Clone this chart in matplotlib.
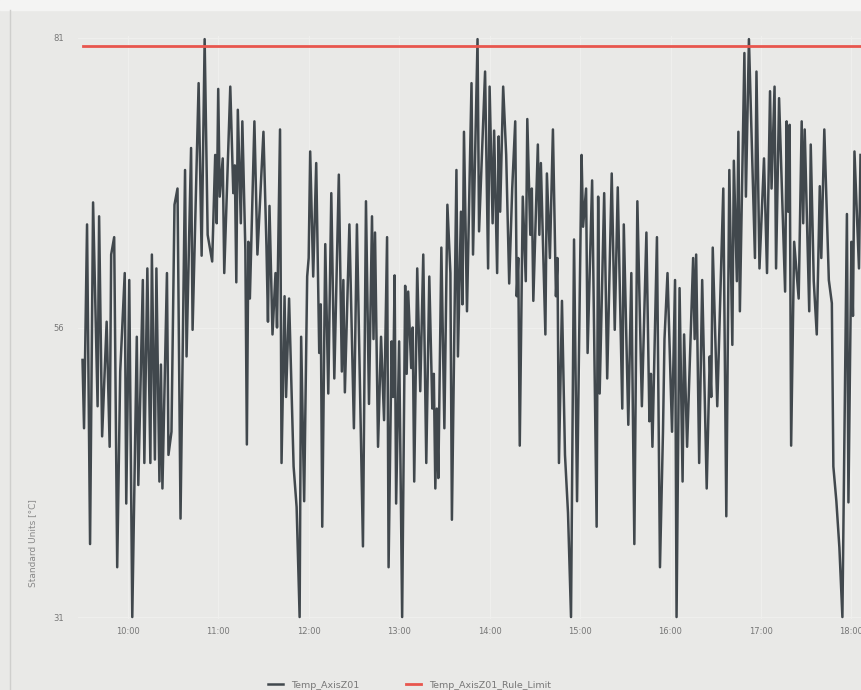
import pandas as pd
import matplotlib
matplotlib.use("Agg")
import matplotlib.pyplot as plt
import matplotlib.dates as mdates
from matplotlib.lines import Line2D
from matplotlib.patches import Rectangle

# minutes after 10:00 and readings of Temp_AxisZ01
minutes = [
    -30, -29, -27, -25, -23, -20, -19, -17, -14, -12, -11, -9, -7, -5, -2, -1,
    1, 3, 6, 7, 10, 11, 13, 15, 16, 18, 19, 21, 22, 23, 26, 27, 29, 31, 33, 35,
    38, 39, 42, 43, 47, 49, 51, 53,
    56, 58, 59, 60, 61, 63, 64, 68, 70, 71, 72, 73, 75, 76, 78, 79, 80, 81,
    84, 86, 90, 92, 93, 94, 96, 98, 99, 101, 102, 104, 105, 107, 110, 112, 114,
    115, 117, 119, 120, 121, 123, 125, 127, 128, 129, 131, 133, 135, 137, 140,
    142, 143, 144, 147, 150, 152, 156, 158, 160, 162, 163, 164, 166, 168, 170,
    172, 173, 175, 176, 177, 178, 180, 182, 184, 185, 186, 188, 189, 190, 192,
    194, 196, 198, 200, 202, 203, 204, 205, 206, 208, 210, 212, 214, 215, 218,
    219, 221, 222, 223, 225,
    228, 229, 232, 233, 237, 239, 240, 242, 243, 245, 246, 247, 249, 251, 253,
    255, 257, 258, 259, 260, 262, 264, 265, 267, 268, 269, 272, 273, 274, 277,
    278, 280, 282, 284, 285, 286, 288, 290, 292, 294, 296, 298, 301, 302, 304, 305,
    308, 311, 312,
    313, 316, 318, 321, 323, 325, 328, 329, 332, 334, 336, 338, 341, 344, 346,
    347, 348, 351, 353, 355, 356, 358, 361, 363, 364, 366, 368, 369, 371, 375,
    376, 377, 379, 381, 384, 386, 387, 388, 391, 395, 397, 399,
    401, 402, 404, 405, 406, 409, 410, 412, 416, 417, 419, 422, 424, 426, 427,
    429, 430, 432, 436, 437, 438, 439, 440, 442, 445, 447, 448, 449, 452, 453,
    455, 457, 459, 460, 462, 465, 467, 468, 470, 472, 474, 477, 478, 480, 481, 482,
    485, 486,
]
temp = [
    53.2, 47.3, 64.9, 37.3, 66.8, 49.2, 65.6, 46.6, 56.5, 45.7, 62.3, 63.8, 35.3, 52.2, 60.7, 40.8,
    60.1, 31.0, 55.2, 42.4, 60.1, 44.3, 61.1, 44.3, 62.3, 44.6, 61.1, 42.7, 52.8, 42.1, 60.7, 45.0, 47.0, 66.6, 68.0, 39.5,
    69.6, 53.5, 71.5, 55.8, 77.1, 62.2, 80.9, 64.0,
    61.7, 70.9, 65.0, 76.6, 67.3, 70.6, 60.7, 76.8, 67.6, 70.0, 59.9, 74.8, 65.0, 73.8, 62.7, 45.9, 63.4, 58.5,
    73.8, 62.3, 72.9, 63.0, 56.5, 66.5, 55.4, 60.7, 56.0, 73.1, 44.3, 58.7, 50.0, 58.5, 44.0, 40.5, 31.0,
    55.2, 41.0, 60.4, 62.0, 71.2, 60.4, 70.2, 53.8, 58.0, 38.8, 63.2, 50.3, 67.6, 51.6, 69.2,
    52.2, 60.1, 50.4, 64.9, 47.3, 64.9, 37.1, 66.9, 49.4, 65.6, 55.0, 64.2, 45.7, 55.2, 48.0,
    63.8, 35.3, 54.8, 50.0, 60.5, 40.8, 54.8, 31.0, 59.6, 52.0, 59.1, 52.5, 56.0, 42.7, 61.1,
    50.5, 62.3, 44.3, 60.4, 49.0, 52.0, 42.1, 49.0, 43.0, 62.9, 47.3, 66.6, 60.7, 39.4, 69.6,
    53.5, 66.0, 58.0, 72.9, 57.4,
    77.1, 62.3, 80.9, 64.3, 78.1, 61.1, 76.8, 65.0, 73.0, 60.7, 72.5, 66.0, 76.8, 70.9, 59.8,
    68.0, 73.8, 58.7, 62.0, 45.8, 67.3, 60.0, 74.0, 64.0, 68.0, 58.3, 71.8, 64.0, 70.2, 55.4,
    69.3, 62.0, 73.1, 58.7, 62.0, 44.3, 58.3, 45.0, 40.0, 31.0, 63.6, 41.0, 70.9, 64.7, 68.0, 53.8,
    68.7, 38.8, 67.3,
    50.3, 67.6, 51.6, 69.3, 55.8, 68.1, 49.0, 64.9, 47.6, 60.7, 37.3, 66.9, 49.2, 64.2, 47.9,
    52.0, 45.7, 63.8, 35.3, 47.0, 55.0, 60.7, 47.0, 60.1, 31.0, 59.4, 42.7, 55.4, 45.7, 62.0,
    55.0, 62.3, 44.3, 60.1, 42.1, 53.5, 50.0, 62.9, 49.2, 68.0, 39.7, 69.6,
    54.5, 70.4, 60.0, 72.9, 57.4, 79.7, 67.3, 80.9, 62.0, 78.1, 61.1, 70.6, 60.7, 76.4, 68.0,
    76.8, 61.1, 75.8, 59.1, 73.8, 66.0, 73.5, 45.8, 63.4, 58.5, 73.8, 65.0, 73.1, 57.4, 71.8,
    60.0, 55.4, 68.2, 62.0, 73.1, 60.1, 58.1, 44.0, 41.0, 37.0, 31.0, 65.8, 40.9, 63.4, 57.0, 71.2,
    61.1, 70.9,
]
rule_limit = 80.3
y_ticks = [31, 56, 81]

base = pd.Timestamp("2024-01-01 10:00")
times = base + pd.to_timedelta(minutes, unit="min")

fig = plt.figure(figsize=(8.62, 6.9), dpi=100, facecolor="#e9e9e7")
fig.patches.append(Rectangle((0, 1 - 10 / 690), 1, 10 / 690, transform=fig.transFigure,
                             color="#f4f4f3", zorder=0))
fig.lines.append(Line2D([10 / 862, 10 / 862], [0, 1 - 10 / 690], transform=fig.transFigure,
                        color="#cfcfcd", lw=1))

ax = fig.add_axes([78 / 862, 1 - 619 / 690, 1 - 78 / 862, (619 - 36) / 690])
ax.set_facecolor("#e9e9e7")

ax.plot(times, temp, color="#41484d", lw=1.8, label="Temp_AxisZ01")
ax.plot([times[0], base + pd.Timedelta(minutes=490)], [rule_limit, rule_limit],
        color="#e8564e", lw=2, label="Temp_AxisZ01_Rule_Limit")

ax.set_xlim(base - pd.Timedelta(minutes=33), base + pd.Timedelta(minutes=487))
ax.set_ylim(30.83, 81.17)
ax.set_yticks(y_ticks)
ax.xaxis.set_major_locator(mdates.HourLocator())
ax.xaxis.set_major_formatter(mdates.DateFormatter("%H:%M"))
ax.tick_params(length=0, labelsize=6, colors="#777777", pad=6)
ax.tick_params(axis="y", pad=10)
ax.grid(True, color="#efefed", lw=0.8)
for s in ax.spines.values():
    s.set_visible(False)
ax.set_ylabel("Standard Units [°C]", fontsize=6.5, color="#888888")
ax.yaxis.set_label_coords(-0.052, 0.13)

fig.legend(loc="lower center", bbox_to_anchor=(0.475, -0.012), ncol=2, frameon=False,
           fontsize=6.8, labelcolor="#777777", handlelength=1.6, columnspacing=5)

fig.savefig("out.png", dpi=100, facecolor=fig.get_facecolor())
